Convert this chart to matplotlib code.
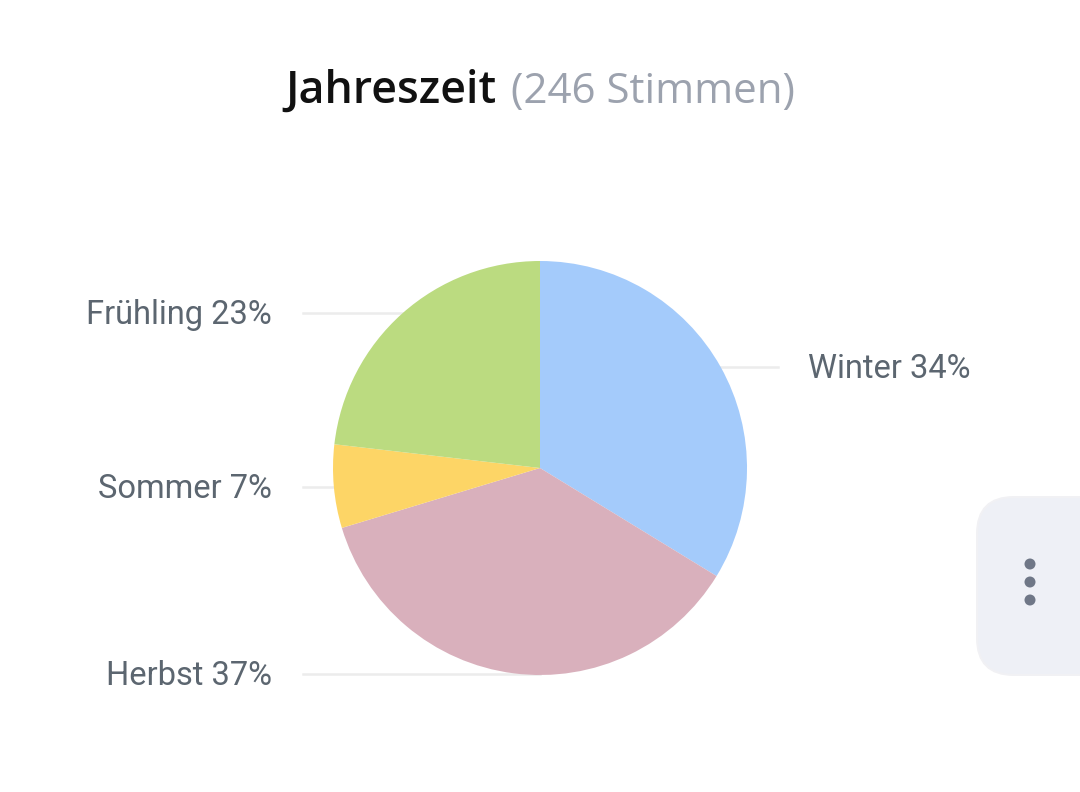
import matplotlib.pyplot as plt
from matplotlib.patches import FancyBboxPatch, Circle

seasons = ['Winter', 'Herbst', 'Sommer', 'Frühling']
votes = [83, 90, 16, 57]
colors = ['#a4cbfb', '#d9b0bc', '#fdd566', '#bbdb80']
total = sum(votes)

W, H = 1080, 792
fig = plt.figure(figsize=(W / 100, H / 100), dpi=100)
ax = fig.add_axes([0, 0, 1, 1])

def Y(py):
    return H - py

cx, cy, r = 540, Y(468), 207
ax.pie(votes, colors=colors, startangle=90, counterclock=False,
       center=(cx, cy), radius=r, wedgeprops=dict(linewidth=0, zorder=2))

# label positions (pixel coords) and leader lines
lab_col = '#5c6670'
line_col = '#ececec'
pos = {
    'Winter': (808, 369, 'left', (720, 778)),
    'Herbst': (272, 676, 'right', (303, 540)),
    'Sommer': (272, 489, 'right', (303, 340)),
    'Frühling': (272, 315, 'right', (303, 420)),
}
for name, v in zip(seasons, votes):
    x, y, ha, (x0, x1) = pos[name]
    pct = round(100 * v / total)
    ax.text(x, Y(y), f'{name} {pct}%', ha=ha, va='center', fontsize=23.5,
            family=['Roboto', 'DejaVu Sans'], color=lab_col)
    ly = y - 2
    ax.plot([x0, x1], [Y(ly), Y(ly)], color=line_col, lw=1.8, zorder=1)

# title
ax.text(497, Y(103), 'Jahreszeit', ha='right', va='baseline', fontsize=32.2,
        fontweight='semibold', family=['Open Sans', 'DejaVu Sans'], color='#111111')
ax.text(511, Y(103), '(246 Stimmen)', ha='left', va='baseline', fontsize=30.3,
        family=['Open Sans', 'DejaVu Sans'], color='#9ca2ae')

# menu button at the right edge
ax.add_patch(FancyBboxPatch((976, Y(676)), 160, 180,
                            boxstyle='round,pad=0,rounding_size=38',
                            fc='#f1f1f4', ec='none', zorder=1))
ax.add_patch(FancyBboxPatch((978, Y(674)), 160, 176,
                            boxstyle='round,pad=0,rounding_size=36',
                            fc='#eef0f6', ec='none', zorder=2))
for dy in (564, 582, 600):
    ax.add_patch(Circle((1030, Y(dy)), 5.5, fc='#6f7787', ec='none', zorder=3))

ax.set_xlim(0, W)
ax.set_ylim(0, H)
ax.set_aspect('equal')
ax.axis('off')

fig.savefig('out.png', dpi=100, facecolor='white')
